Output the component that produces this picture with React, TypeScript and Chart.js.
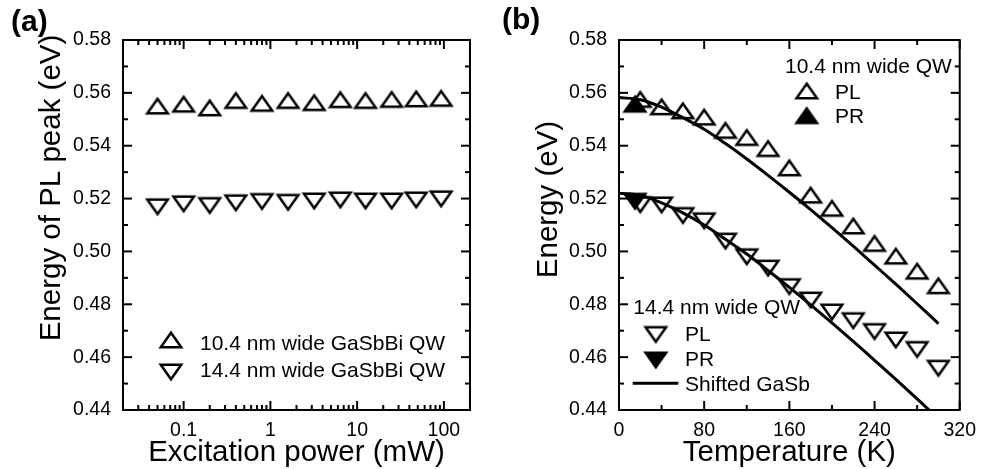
import React, { useEffect, useRef } from 'react';
import { Chart, registerables } from 'chart.js';

Chart.register(...registerables);

// ---------------- data ----------------
// Panel (a): PL peak energy vs excitation power
const powerMW = [0.05, 0.1, 0.2, 0.4, 0.8, 1.6, 3.2, 6.4, 12.5, 25, 48, 93];
const peak104nm = [0.555, 0.5557, 0.5543, 0.5571, 0.556, 0.5571, 0.5563, 0.5574, 0.5571, 0.5575, 0.5577, 0.5579];
const peak144nm = [0.5169, 0.518, 0.5174, 0.5184, 0.5189, 0.5186, 0.5191, 0.5195, 0.5191, 0.5191, 0.5195, 0.5199];

// Panel (b): energy vs temperature
const tempK = [20, 40, 60, 80, 100, 120, 140, 160, 180, 200, 220, 240, 260, 280, 300];
const pl104nm = [0.5575, 0.5547, 0.5532, 0.5508, 0.5458, 0.5431, 0.5389, 0.5316, 0.5213, 0.5163, 0.5096, 0.503, 0.4982, 0.4925, 0.487];
const pl144nm = [0.5177, 0.5176, 0.5136, 0.5116, 0.5039, 0.498, 0.4937, 0.4867, 0.4816, 0.4771, 0.4738, 0.4697, 0.4665, 0.4629, 0.4558];
const prTempK = [15];
const pr104nm = [0.5557];
const pr144nm = [0.519];
const gasbTempK = [0, 20, 40, 60, 80, 100, 120, 140, 160, 180, 200, 220, 240, 260, 280, 300];
const gasb104nm = [0.5582, 0.5574, 0.5546, 0.5506, 0.5462, 0.5408, 0.535, 0.5288, 0.5224, 0.5158, 0.509, 0.502, 0.4948, 0.4876, 0.4802, 0.4727];
const gasb144nm = [0.522, 0.5212, 0.5184, 0.5146, 0.51, 0.5046, 0.499, 0.4928, 0.4864, 0.4798, 0.473, 0.466, 0.4588, 0.4516, 0.4442, 0.4367];

// tick values
const energyMajor = [0.44, 0.46, 0.48, 0.5, 0.52, 0.54, 0.56, 0.58];
const energyMinor = [0.45, 0.47, 0.49, 0.51, 0.53, 0.55, 0.57];
const powerMajor = [0.1, 1, 10, 100];
const powerMinor = [
  0.02, 0.03, 0.04, 0.05, 0.06, 0.07, 0.08, 0.09,
  0.2, 0.3, 0.4, 0.5, 0.6, 0.7, 0.8, 0.9,
  2, 3, 4, 5, 6, 7, 8, 9,
  20, 30, 40, 50, 60, 70, 80, 90, 200,
];
const tempMajor = [0, 80, 160, 240, 320];
const tempMinor = [40, 120, 200, 280];

// ---------------- styling ----------------
const FONT = '"Liberation Sans", Arial, Helvetica, sans-serif';
const TICK_SIZE = 19.5;
const TITLE_SIZE = 29.5;
const LEGEND_SIZE = 21;
const INK = '#000';

function pts(xs: number[], ys: number[]) {
  return xs.map((x, i) => ({ x, y: ys[i] }));
}

function makeTriangle(down: boolean, filled: boolean): HTMLCanvasElement {
  const W = 32;
  const H = 26;
  const c = document.createElement('canvas');
  c.width = W;
  c.height = H;
  const ctx = c.getContext('2d')!;
  const w = 20.5;
  const h = 14.5;
  const cx = W / 2;
  const cy = H / 2;
  ctx.beginPath();
  if (!down) {
    ctx.moveTo(cx, cy - h / 2);
    ctx.lineTo(cx + w / 2, cy + h / 2);
    ctx.lineTo(cx - w / 2, cy + h / 2);
  } else {
    ctx.moveTo(cx, cy + h / 2);
    ctx.lineTo(cx + w / 2, cy - h / 2);
    ctx.lineTo(cx - w / 2, cy - h / 2);
  }
  ctx.closePath();
  if (filled) {
    ctx.fillStyle = INK;
    ctx.fill();
  }
  ctx.lineJoin = 'miter';
  ctx.lineWidth = 2.5;
  ctx.strokeStyle = INK;
  ctx.stroke();
  return c;
}

type Decor = {
  xMajor: number[];
  xMinor: number[];
  yMajor: number[];
  yMinor: number[];
  extra: (ctx: CanvasRenderingContext2D) => void;
};

function decorPlugin(d: Decor) {
  return {
    id: 'decor',
    afterDraw(chart: any) {
      const { ctx, chartArea: a, scales } = chart;
      const xs = scales.x;
      const ys = scales.y;
      ctx.save();
      ctx.strokeStyle = INK;
      ctx.lineWidth = 2;
      ctx.lineCap = 'butt';
      const seg = (x1: number, y1: number, x2: number, y2: number) => {
        ctx.beginPath();
        ctx.moveTo(x1, y1);
        ctx.lineTo(x2, y2);
        ctx.stroke();
      };
      const MAJ = 9;
      const MIN = 5;
      for (const v of d.yMajor) {
        const p = ys.getPixelForValue(v);
        seg(a.left, p, a.left + MAJ, p);
        seg(a.right, p, a.right - MAJ, p);
      }
      for (const v of d.yMinor) {
        const p = ys.getPixelForValue(v);
        seg(a.left, p, a.left + MIN, p);
        seg(a.right, p, a.right - MIN, p);
      }
      for (const v of d.xMajor) {
        const p = xs.getPixelForValue(v);
        seg(p, a.bottom, p, a.bottom - MAJ);
        seg(p, a.top, p, a.top + MAJ);
      }
      for (const v of d.xMinor) {
        const p = xs.getPixelForValue(v);
        seg(p, a.bottom, p, a.bottom - MIN);
        seg(p, a.top, p, a.top + MIN);
      }
      ctx.strokeRect(a.left, a.top, a.right - a.left, a.bottom - a.top);
      ctx.restore();
      ctx.save();
      d.extra(ctx);
      ctx.restore();
    },
  };
}

function text(ctx: CanvasRenderingContext2D, s: string, x: number, y: number, size: number, bold = false) {
  ctx.font = `${bold ? 'bold ' : ''}${size}px ${FONT}`;
  ctx.fillStyle = INK;
  ctx.textAlign = 'left';
  ctx.textBaseline = 'alphabetic';
  ctx.fillText(s, x, y);
}

function vtitle(ctx: CanvasRenderingContext2D, s: string, x: number, yCenter: number) {
  ctx.save();
  ctx.translate(x, yCenter);
  ctx.rotate(-Math.PI / 2);
  ctx.font = `${TITLE_SIZE}px ${FONT}`;
  ctx.fillStyle = INK;
  ctx.textAlign = 'center';
  ctx.textBaseline = 'alphabetic';
  ctx.fillText(s, 0, 0);
  ctx.restore();
}

function marker(ctx: CanvasRenderingContext2D, img: HTMLCanvasElement, x: number, y: number) {
  ctx.drawImage(img, x - img.width / 2, y - img.height / 2);
}

function axisX(type: 'logarithmic' | 'linear', min: number, max: number, major: number[], title: string) {
  return {
    type,
    min,
    max,
    grid: { display: false, drawTicks: false },
    border: { display: false },
    afterBuildTicks: (s: any) => {
      s.ticks = major.map((v) => ({ value: v }));
    },
    afterFit: (s: any) => {
      s.height = 59;
    },
    ticks: {
      autoSkip: false,
      maxRotation: 0,
      minRotation: 0,
      padding: 9,
      color: INK,
      font: { family: FONT, size: TICK_SIZE },
      callback: (v: any) => String(v),
    },
    title: {
      display: true,
      text: title,
      color: INK,
      font: { family: FONT, size: TITLE_SIZE, lineHeight: 1 },
      padding: { top: 0, bottom: 1 },
    },
  };
}

function axisY(width: number) {
  return {
    type: 'linear',
    min: 0.44,
    max: 0.58,
    grid: { display: false, drawTicks: false },
    border: { display: false },
    afterBuildTicks: (s: any) => {
      s.ticks = energyMajor.map((v) => ({ value: v }));
    },
    afterFit: (s: any) => {
      s.width = width;
    },
    ticks: {
      autoSkip: false,
      padding: 12,
      color: INK,
      font: { family: FONT, size: TICK_SIZE },
      callback: (v: any) => Number(v).toFixed(2),
    },
  };
}

const baseOptions = {
  responsive: false,
  maintainAspectRatio: false,
  animation: false,
  events: [],
  plugins: { legend: { display: false }, tooltip: { enabled: false } },
};

export default function App() {
  const refA = useRef<HTMLCanvasElement>(null);
  const refB = useRef<HTMLCanvasElement>(null);

  useEffect(() => {
    const upOpen = makeTriangle(false, false);
    const downOpen = makeTriangle(true, false);
    const upFilled = makeTriangle(false, true);
    const downFilled = makeTriangle(true, true);

    const scatter = (label: string, data: any[], style: HTMLCanvasElement) => ({
      label,
      data,
      type: 'scatter',
      showLine: false,
      pointStyle: style,
      pointRadius: 10,
      pointHoverRadius: 10,
    });

    const chartA = new Chart(refA.current!, {
      type: 'scatter',
      data: {
        datasets: [
          scatter('10.4 nm wide GaSbBi QW', pts(powerMW, peak104nm), upOpen),
          scatter('14.4 nm wide GaSbBi QW', pts(powerMW, peak144nm), downOpen),
        ] as any,
      },
      options: {
        ...baseOptions,
        layout: { padding: { top: 40, right: 20, left: 0, bottom: 0 } },
        scales: {
          x: axisX('logarithmic', 0.02, 200, powerMajor, 'Excitation power (mW)'),
          y: axisY(123),
        },
      } as any,
      plugins: [
        decorPlugin({
          xMajor: powerMajor,
          xMinor: powerMinor,
          yMajor: energyMajor,
          yMinor: energyMinor,
          extra: (ctx) => {
            vtitle(ctx, 'Energy of PL peak (eV)', 60, 188);
            text(ctx, '(a)', 11, 31, 30, true);
            marker(ctx, upOpen, 171, 340);
            text(ctx, '10.4 nm wide GaSbBi QW', 200, 349.5, LEGEND_SIZE);
            marker(ctx, downOpen, 171, 372);
            text(ctx, '14.4 nm wide GaSbBi QW', 200, 376.5, LEGEND_SIZE);
          },
        }),
      ],
    });

    const line = (label: string, data: any[]) => ({
      label,
      data,
      type: 'line',
      showLine: true,
      borderColor: INK,
      borderWidth: 3,
      pointRadius: 0,
      fill: false,
      cubicInterpolationMode: 'monotone',
      clip: 0,
    });

    const chartB = new Chart(refB.current!, {
      type: 'scatter',
      data: {
        datasets: [
          scatter('10.4 nm PR', pts(prTempK, pr104nm), upFilled),
          scatter('14.4 nm PR', pts(prTempK, pr144nm), downFilled),
          scatter('10.4 nm PL', pts(tempK, pl104nm), upOpen),
          scatter('14.4 nm PL', pts(tempK, pl144nm), downOpen),
          line('Shifted GaSb (10.4 nm)', pts(gasbTempK, gasb104nm)),
          line('Shifted GaSb (14.4 nm)', pts(gasbTempK, gasb144nm)),
        ] as any,
      },
      options: {
        ...baseOptions,
        layout: { padding: { top: 40, right: 19, left: 0, bottom: 0 } },
        scales: {
          x: axisX('linear', 0, 320, tempMajor, 'Temperature (K)'),
          y: axisY(129),
        },
      } as any,
      plugins: [
        decorPlugin({
          xMajor: tempMajor,
          xMinor: tempMinor,
          yMajor: energyMajor,
          yMinor: energyMinor,
          extra: (ctx) => {
            vtitle(ctx, 'Energy (eV)', 66.5, 199.5);
            text(ctx, '(b)', 12, 29, 30, true);
            text(ctx, '10.4 nm wide QW', 295, 73.3, LEGEND_SIZE);
            marker(ctx, upOpen, 316.7, 91);
            text(ctx, 'PL', 345, 99, LEGEND_SIZE);
            marker(ctx, upFilled, 316.7, 115.7);
            text(ctx, 'PR', 345, 122.7, LEGEND_SIZE);
            text(ctx, '14.4 nm wide QW', 143.3, 314, LEGEND_SIZE);
            marker(ctx, downOpen, 165.8, 334.5);
            text(ctx, 'PL', 195, 340.7, LEGEND_SIZE);
            marker(ctx, downFilled, 165.8, 360);
            text(ctx, 'PR', 195, 366, LEGEND_SIZE);
            ctx.strokeStyle = INK;
            ctx.lineWidth = 3;
            ctx.beginPath();
            ctx.moveTo(142.7, 383.3);
            ctx.lineTo(188.3, 383.3);
            ctx.stroke();
            text(ctx, 'Shifted GaSb', 195, 390.7, LEGEND_SIZE);
          },
        }),
      ],
    });

    return () => {
      chartA.destroy();
      chartB.destroy();
    };
  }, []);

  return (
    <div style={{ position: 'absolute', left: 0, top: 0, width: 985, height: 469, background: '#fff' }}>
      <canvas ref={refA} width={490} height={469} style={{ position: 'absolute', left: 0, top: 0 }} />
      <canvas ref={refB} width={495} height={469} style={{ position: 'absolute', left: 490, top: 0 }} />
    </div>
  );
}
